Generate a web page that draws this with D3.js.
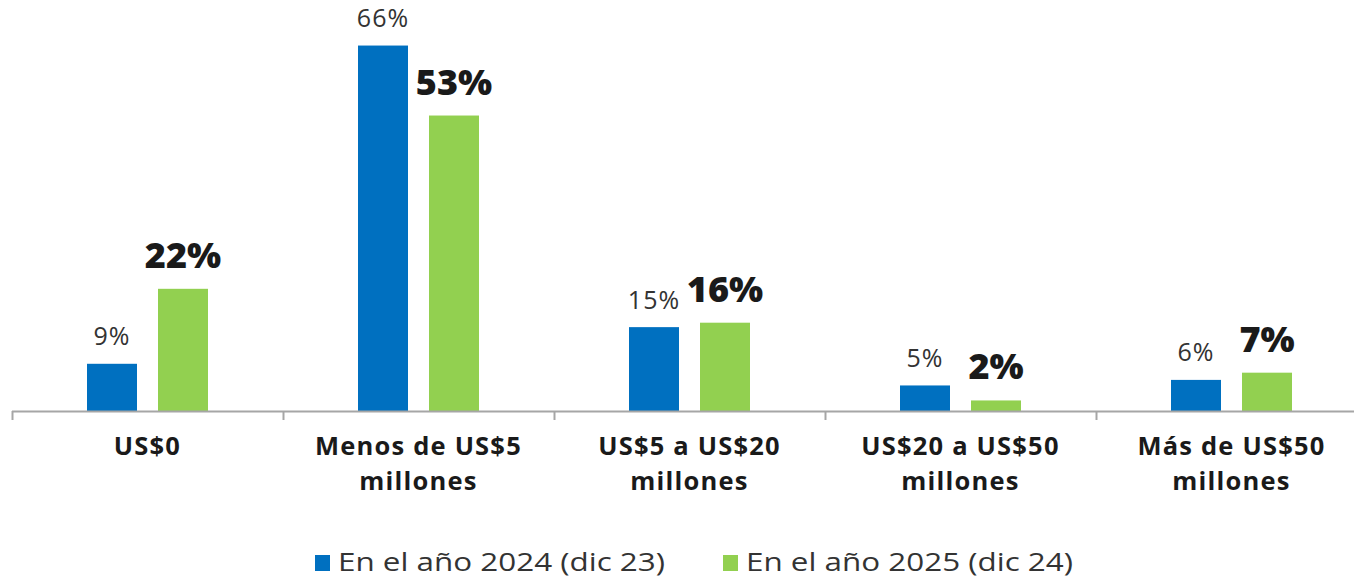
<!DOCTYPE html>
<html><head><meta charset="utf-8">
<script src="https://cdn.jsdelivr.net/npm/d3@7"></script>
<style>html,body{margin:0;padding:0;background:#fff;} svg{display:block;}</style>
</head><body>
<svg id="chart" width="1354" height="580"></svg>
<script>
const categories = [["US$0"], ["Menos de US$5", "millones"], ["US$5 a US$20", "millones"], ["US$20 a US$50", "millones"], ["Más de US$50", "millones"]];
const seriesNames = ["En el año 2024 (dic 23)", "En el año 2025 (dic 24)"];
const values2024 = [8.5, 65.8, 15.1, 4.6, 5.6];
const values2025 = [22.0, 53.2, 15.9, 1.9, 6.9];
const labels2024 = ["9%", "66%", "15%", "5%", "6%"];
const labels2025 = ["22%", "53%", "16%", "2%", "7%"];
const colors = ["#0070C0", "#92D050"];

const svg = d3.select("#chart");
const font = "'Open Sans', sans-serif";
const baseY = 411;
const catKeys = categories.map(c => c.join(" "));

const x0 = d3.scaleBand().domain(catKeys).range([12, 12 + 271 * 5]).paddingInner(0).paddingOuter(0);
const x1 = d3.scaleBand().domain(seriesNames).range([75, 196]).paddingInner(21 / 71).paddingOuter(0);
const y = d3.scaleLinear().domain([0, 74]).range([baseY, 0]);

const data = catKeys.map((k, i) => ({
  key: k, lines: categories[i],
  vals: [
    {s: seriesNames[0], v: values2024[i], label: labels2024[i], idx: 0},
    {s: seriesNames[1], v: values2025[i], label: labels2025[i], idx: 1}
  ]
}));

const g = svg.append("g");
const groups = g.selectAll("g.cat").data(data).join("g")
  .attr("class", "cat")
  .attr("transform", d => `translate(${x0(d.key)},0)`);

groups.selectAll("rect").data(d => d.vals).join("rect")
  .attr("x", d => x1(d.s))
  .attr("width", x1.bandwidth())
  .attr("y", d => y(d.v))
  .attr("height", d => baseY - y(d.v))
  .attr("fill", d => colors[d.idx]);

groups.selectAll("text.val").data(d => d.vals).join("text")
  .attr("class", "val")
  .attr("x", d => x1(d.s) + x1.bandwidth() / 2)
  .attr("y", d => y(d.v) - (d.idx === 0 ? 18.5 : 21))
  .attr("text-anchor", "middle")
  .attr("font-family", font)
  .attr("font-size", d => d.idx === 0 ? 25 : 36)
  .attr("font-weight", d => d.idx === 0 ? 400 : 800)
  .attr("letter-spacing", d => d.idx === 0 ? 1 : 0)
  .attr("fill", d => d.idx === 0 ? "#333333" : "#1a1a1a")
  .text(d => d.label);

// axis
const axisG = svg.append("g");
axisG.append("line")
  .attr("x1", x0.range()[0]).attr("x2", 1354)
  .attr("y1", baseY + 0.5).attr("y2", baseY + 0.5)
  .attr("stroke", "#A6A6A6").attr("stroke-width", 2);
axisG.selectAll("line.tick").data(catKeys).join("line")
  .attr("class", "tick")
  .attr("x1", d => x0(d) + 0.5).attr("x2", d => x0(d) + 0.5)
  .attr("y1", baseY).attr("y2", baseY + 9)
  .attr("stroke", "#A6A6A6").attr("stroke-width", 2);

// category labels
const catText = svg.selectAll("text.cat").data(data).join("text")
  .attr("class", "cat")
  .attr("text-anchor", "middle")
  .attr("font-family", font)
  .attr("font-size", 25.5)
  .attr("font-weight", 700)
  .attr("letter-spacing", 1.2)
  .attr("fill", "#1a1a1a");
catText.selectAll("tspan").data(d => d.lines.map(l => ({l, cx: x0(d.key) + x0.bandwidth() / 2}))).join("tspan")
  .attr("x", d => d.cx)
  .attr("y", (d, i) => 455 + i * 35)
  .text(d => d.l);

// legend
const legendX = [315, 723];
const leg = svg.selectAll("g.leg").data(seriesNames).join("g")
  .attr("class", "leg")
  .attr("transform", (d, i) => `translate(${legendX[i]},555)`);
leg.append("rect").attr("width", 15).attr("height", 16).attr("fill", (d, i) => colors[i]);
leg.append("text")
  .attr("x", 23).attr("y", 16)
  .attr("font-family", font).attr("font-size", 26).attr("fill", "#333333")
  .attr("textLength", 327).attr("lengthAdjust", "spacingAndGlyphs")
  .text(d => d);
</script>
</body></html>
